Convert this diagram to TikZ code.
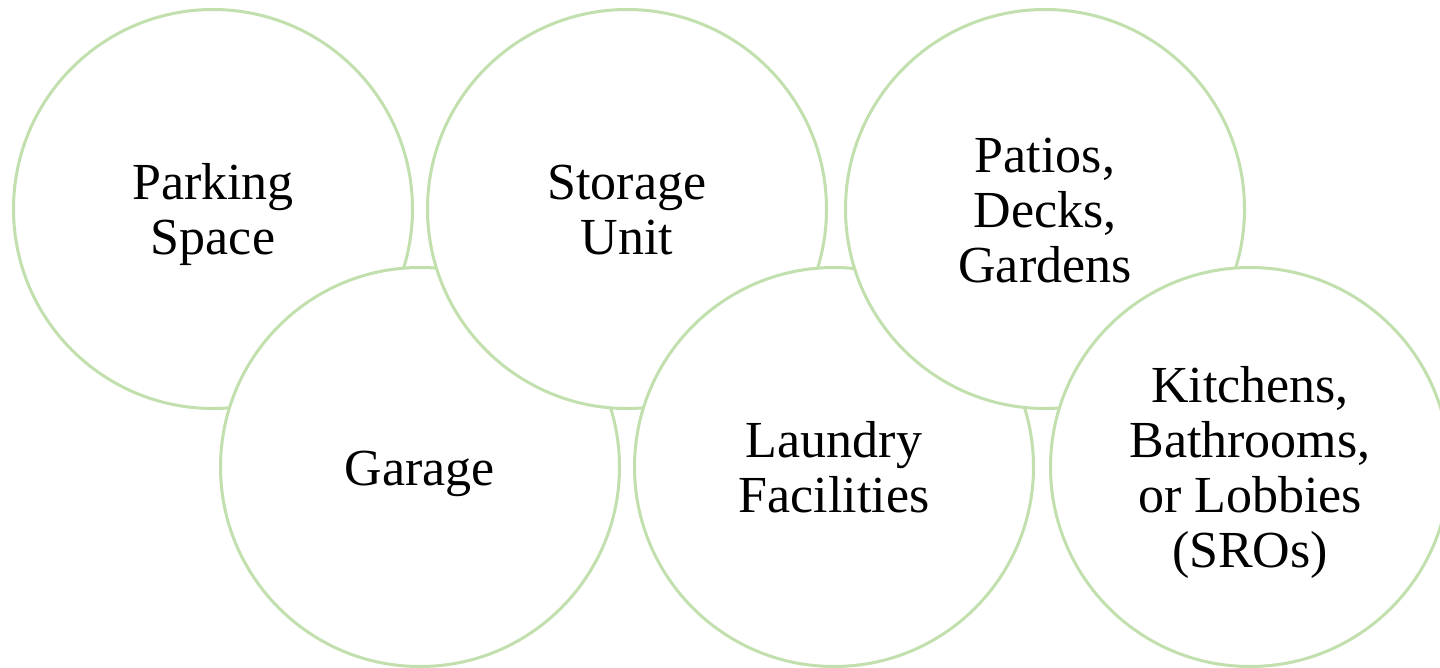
\documentclass[tikz,border=0pt]{standalone}
\usepackage{fontspec}
\setmainfont{Liberation Serif}
\definecolor{ringgreen}{HTML}{C2DFAE}
\newcommand\topstrut{\rule{0pt}{52pt}}
\newcommand\botstrut{\rule[-16pt]{0pt}{16pt}}
\begin{document}
\begin{tikzpicture}[x=1pt,y=-1pt,
  ring/.style={circle, draw=ringgreen, line width=3pt, fill=white,
    minimum size=399pt, inner sep=0pt, align=center,
    font=\fontsize{52pt}{55pt}\selectfont}]
\fill[white] (0,0) rectangle (1440,667);
\useasboundingbox (0,0) rectangle (1440,667);
\node[ring] (park) at (213,209) {\topstrut Parking\\Space\botstrut};
\node[ring] (garage) at (420,467) {\topstrut Garage\botstrut};
\node[ring] (storage) at (627,209) {\topstrut Storage\\Unit\botstrut};
\node[ring] (laundry) at (834,467) {\topstrut Laundry\\Facilities\botstrut};
\node[ring] (patios) at (1045,209) {\topstrut Patios,\\Decks,\\Gardens\botstrut};
\node[ring] (kitchens) at (1250,467) {\topstrut Kitchens,\\Bathrooms,\\or Lobbies\\(SROs)\botstrut};
\end{tikzpicture}
\end{document}
